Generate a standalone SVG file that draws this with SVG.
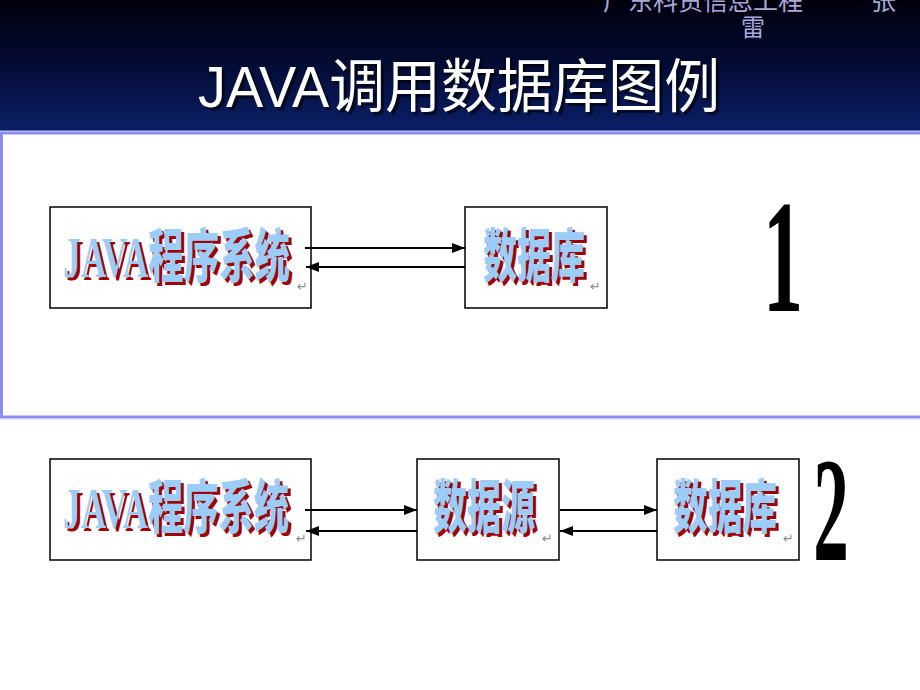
<svg xmlns="http://www.w3.org/2000/svg" width="920" height="690" viewBox="0 0 920 690">
<defs>
<linearGradient id="hdr" x1="0" y1="0" x2="0" y2="1">
<stop offset="0" stop-color="#00000c"/>
<stop offset="0.45" stop-color="#020a30"/>
<stop offset="1" stop-color="#0b1f68"/>
</linearGradient>
<marker id="ah" markerUnits="userSpaceOnUse" markerWidth="13" markerHeight="10" refX="13" refY="5" orient="auto">
<path d="M0,0 L13,5 L0,10 z" fill="#000"/>
</marker>
<style>
.box{fill:#fff;stroke:#000;stroke-width:1.5}
.lbl{font-family:"Liberation Serif","Noto Sans CJK SC",serif;font-weight:900;font-size:58px}
.sh{fill:#a00000}
.fg{fill:#9cccfa}
.ret{font-family:"DejaVu Sans",sans-serif;font-size:13px;fill:#888}
.con{stroke:#000;stroke-width:1.8;fill:none;marker-end:url(#ah)}
.big{font-family:"Liberation Serif",serif;font-weight:bold;fill:#000}
.hd{font-family:"Noto Sans CJK SC",sans-serif;fill:#a8a8d8}
</style>
</defs>
<rect x="0" y="0" width="920" height="690" fill="#fff"/>
<g id="header">
<rect x="0" y="0" width="920" height="131" fill="url(#hdr)"/>
<text class="hd" x="603" y="10" font-size="25">广东科贸信息工程</text>
<text class="hd" x="871" y="10" font-size="25">张</text>
<text class="hd" x="741" y="36" font-size="24">雷</text>
<text x="201" y="110" font-family="Liberation Sans,Noto Sans CJK SC,sans-serif" font-size="58" fill="#000" opacity="0.6" textLength="522" lengthAdjust="spacingAndGlyphs">JAVA调用数据库图例</text>
<text x="198" y="107" font-family="Liberation Sans,Noto Sans CJK SC,sans-serif" font-size="58" fill="#fff" textLength="522" lengthAdjust="spacingAndGlyphs">JAVA调用数据库图例</text>
</g>
<g id="panel">
<rect x="1.5" y="133" width="930" height="284" fill="#fff" stroke="#8c8cee" stroke-width="3"/>
<line x1="0" y1="131" x2="920" y2="131" stroke="#b4b4f6" stroke-width="1"/>
<line x1="0" y1="419" x2="920" y2="419" stroke="#c8c8f8" stroke-width="1"/>
</g>
<g id="node-java1">
<rect class="box" x="50" y="207" width="261" height="101"/>
<text class="lbl sh" x="66" y="280" textLength="227" lengthAdjust="spacingAndGlyphs">JAVA程序系统</text>
<text class="lbl fg" x="63" y="277" textLength="227" lengthAdjust="spacingAndGlyphs">JAVA程序系统</text>
<text class="ret" x="297" y="291">↵</text>
</g>
<g id="node-db1">
<rect class="box" x="465" y="207" width="142" height="101"/>
<text class="lbl sh" x="486" y="280" textLength="102" lengthAdjust="spacingAndGlyphs">数据库</text>
<text class="lbl fg" x="483" y="277" textLength="102" lengthAdjust="spacingAndGlyphs">数据库</text>
<text class="ret" x="590" y="291">↵</text>
</g>
<g id="node-java2">
<rect class="box" x="50" y="459" width="261" height="101"/>
<text class="lbl sh" x="66" y="531" textLength="226" lengthAdjust="spacingAndGlyphs">JAVA程序系统</text>
<text class="lbl fg" x="63" y="528" textLength="226" lengthAdjust="spacingAndGlyphs">JAVA程序系统</text>
<text class="ret" x="296" y="543">↵</text>
</g>
<g id="node-ds2">
<rect class="box" x="417" y="459" width="142" height="101"/>
<text class="lbl sh" x="436" y="531" textLength="102" lengthAdjust="spacingAndGlyphs">数据源</text>
<text class="lbl fg" x="433" y="528" textLength="102" lengthAdjust="spacingAndGlyphs">数据源</text>
<text class="ret" x="542" y="543">↵</text>
</g>
<g id="node-db2">
<rect class="box" x="657" y="459" width="142" height="101"/>
<text class="lbl sh" x="676" y="531" textLength="104" lengthAdjust="spacingAndGlyphs">数据库</text>
<text class="lbl fg" x="673" y="528" textLength="104" lengthAdjust="spacingAndGlyphs">数据库</text>
<text class="ret" x="783" y="543">↵</text>
</g>
<g id="connectors">
<line class="con" x1="305" y1="248" x2="465" y2="248"/>
<line class="con" x1="465" y1="267" x2="306" y2="267"/>
<line class="con" x1="305" y1="510" x2="417" y2="510"/>
<line class="con" x1="417" y1="531" x2="306" y2="531"/>
<line class="con" x1="560" y1="510" x2="657" y2="510"/>
<line class="con" x1="657" y1="531" x2="560" y2="531"/>
</g>
<g id="marks">
<text class="big" x="0" y="0" font-size="160" text-anchor="middle" transform="translate(783,311) scale(0.5,1)">1</text>
<text class="big" x="0" y="0" font-size="148" text-anchor="middle" transform="translate(831,560) scale(0.48,1)">2</text>
</g>
</svg>
